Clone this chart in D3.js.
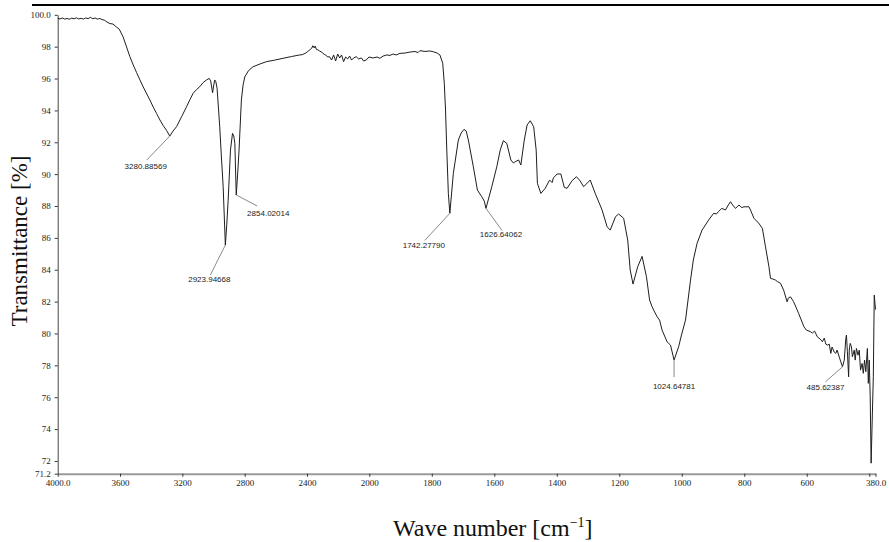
<!DOCTYPE html>
<html>
<head>
<meta charset="utf-8">
<script src="https://cdn.jsdelivr.net/npm/d3@7"></script>
<style>
  html, body { margin: 0; padding: 0; background: #fff; }
  svg { display: block; }
</style>
</head>
<body>
<div id="chart"></div>
<script>
// FTIR spectrum: wavenumber (cm-1) and transmittance (%)
const wavenumber = [
  4000, 3985, 3970, 3955, 3940, 3925, 3910, 3895, 3880, 3865, 3850, 3835, 3820, 3805, 3790, 3775, 3760, 3745, 3730, 3715,
  3700, 3684, 3665, 3645, 3625, 3605, 3580, 3558, 3537, 3515, 3494, 3472, 3451, 3428, 3408, 3387, 3365, 3344, 3323, 3301,
  3280.88569, 3260, 3237, 3205, 3173, 3150, 3131, 3110, 3088, 3066, 3045, 3028, 3018, 3006, 2998, 2992, 2985, 2977, 2960, 2950,
  2938, 2923.94668, 2915, 2906, 2891, 2878, 2870, 2863, 2854.02014, 2845, 2836, 2821, 2810, 2799, 2775, 2746, 2700, 2660, 2610, 2554,
  2500, 2447, 2430, 2408, 2395, 2383, 2370, 2362, 2354, 2347, 2340, 2330, 2319, 2310, 2299, 2290, 2280, 2267, 2255, 2242,
  2229, 2216, 2203, 2190, 2178, 2165, 2152, 2139, 2126, 2114, 2101, 2084, 2069, 2050, 2037, 2020, 2002, 1988, 1975, 1966,
  1956, 1944, 1934, 1924, 1914, 1902, 1886, 1870, 1854, 1844, 1838, 1822, 1806, 1795, 1783, 1774, 1765, 1760, 1756, 1752,
  1747, 1742.27790, 1731, 1715, 1706, 1697, 1690, 1683, 1667, 1654, 1640, 1632, 1626.64062, 1608, 1592, 1581, 1571, 1560, 1547, 1539,
  1533, 1522, 1515, 1504, 1495, 1485, 1474, 1466, 1462, 1451, 1437, 1423, 1415, 1411, 1399, 1387, 1376, 1367, 1351, 1337,
  1325, 1314, 1293, 1277, 1255, 1239, 1229, 1212, 1202, 1186, 1173, 1165, 1156, 1141, 1127, 1113, 1103, 1095, 1090, 1079,
  1071, 1063, 1047, 1036, 1024.64781, 1010, 1001, 988, 972, 963, 951, 935, 914, 898, 889, 883, 872, 860, 853, 844,
  837, 828, 817, 808, 801, 785, 780, 769, 754, 742, 732, 721, 716, 709, 700, 694, 684, 674, 663, 659,
  652, 642, 626, 609, 601, 588, 582, 575, 566, 557, 550, 544, 539, 534, 528, 523, 519, 512, 507, 503,
  496, 491, 485.62387, 480, 475, 473, 470, 466, 464, 461, 457, 454, 448, 445, 441, 436, 432, 428, 423, 419,
  415, 411, 406, 403, 400, 397, 394, 390, 387, 384, 380
];
const transmittance = [
  99.78, 99.74, 99.80, 99.73, 99.77, 99.72, 99.79, 99.75, 99.81, 99.74, 99.78, 99.73, 99.80, 99.76, 99.84, 99.75, 99.80, 99.73, 99.77, 99.70,
  99.66, 99.55, 99.45, 99.42, 99.25, 99.10, 98.61, 97.98, 97.38, 96.85, 96.38, 95.91, 95.47, 95.03, 94.65, 94.21, 93.80, 93.40, 93.05, 92.74,
  92.39, 92.70, 92.98, 93.60, 94.23, 94.70, 95.07, 95.30, 95.49, 95.75, 95.91, 96.01, 95.85, 95.11, 95.60, 95.91, 95.80, 95.39, 92.98, 91.20,
  89.21, 85.55, 86.80, 88.37, 91.51, 92.56, 92.40, 91.93, 88.69, 90.00, 91.51, 94.65, 95.60, 96.11, 96.50, 96.74, 96.92, 97.06, 97.15, 97.27,
  97.38, 97.48, 97.50, 97.60, 97.70, 97.79, 97.90, 98.06, 97.92, 98.04, 97.83, 97.80, 97.73, 97.68, 97.60, 97.52, 97.48, 97.35, 97.37, 97.16,
  97.48, 97.10, 97.54, 97.29, 97.48, 97.06, 97.35, 97.23, 97.41, 97.16, 97.29, 97.37, 97.23, 97.29, 97.10, 97.16, 97.35, 97.29, 97.35, 97.27,
  97.41, 97.48, 97.45, 97.54, 97.48, 97.58, 97.60, 97.66, 97.70, 97.63, 97.75, 97.70, 97.73, 97.68, 97.60, 97.48, 96.96, 95.70, 94.02, 91.51,
  88.79, 87.54, 90.05, 92.14, 92.58, 92.81, 92.71, 92.14, 90.46, 89.00, 88.58, 88.31, 87.85, 89.21, 90.46, 91.51, 92.10, 91.93, 90.89, 90.70,
  90.78, 90.89, 90.57, 92.14, 93.08, 93.35, 92.98, 91.51, 89.42, 88.79, 89.11, 89.63, 89.47, 89.76, 90.01, 90.01, 89.17, 89.11, 89.59, 89.84,
  89.57, 89.21, 89.63, 88.79, 87.75, 86.70, 86.49, 87.33, 87.50, 87.23, 85.86, 83.98, 83.10, 84.19, 84.84, 83.56, 82.10, 81.68, 81.47, 81.05,
  80.84, 80.21, 79.48, 79.27, 78.33, 79.17, 79.90, 80.84, 83.35, 84.61, 85.66, 86.49, 87.12, 87.54, 87.50, 87.64, 87.85, 87.75, 88.00, 88.27,
  88.06, 87.85, 88.06, 87.90, 87.95, 87.95, 87.75, 87.23, 86.93, 86.60, 85.44, 84.19, 83.46, 83.42, 83.35, 83.26, 83.15, 82.72, 81.99, 82.22,
  82.30, 81.99, 81.26, 80.42, 80.21, 80.11, 80.03, 80.15, 79.79, 79.65, 79.48, 79.71, 79.33, 79.27, 79.33, 78.75, 79.15, 78.83, 78.75, 78.96,
  78.52, 78.22, 77.91, 78.33, 79.69, 79.90, 78.85, 77.28, 78.96, 79.38, 79.17, 78.54, 78.96, 78.33, 79.06, 78.64, 78.96, 77.70, 78.12, 77.50,
  78.33, 77.60, 79.06, 76.87, 78.33, 76.03, 71.86, 75.00, 77.28, 82.41, 81.50
];

// Labelled absorption bands
const peakWavenumber = [3280.88569, 2923.94668, 2854.02014, 1742.27790, 1626.64062, 1024.64781, 485.62387];
const peakLabel = ["3280.88569", "2923.94668", "2854.02014", "1742.27790", "1626.64062", "1024.64781", "485.62387"];

// Axis ticks
const xTickValues = [4000, 3600, 3200, 2800, 2400, 2000, 1800, 1600, 1400, 1200, 1000, 800, 600, 400, 380];
const xTickLabels = ["4000.0", "3600", "3200", "2800", "2400", "2000", "1800", "1600", "1400", "1200", "1000", "800", "600", "", "380.0"];
const yTickValues = [71.2, 72, 74, 76, 78, 80, 82, 84, 86, 88, 90, 92, 94, 96, 98, 100];
const yTickLabels = ["71.2", "72", "74", "76", "78", "80", "82", "84", "86", "88", "90", "92", "94", "96", "98", "100.0"];

const W = 889, H = 542;
const plot = { left: 57.7, right: 875.5, top: 14.8, bottom: 473.7 };

const svg = d3.select("#chart").append("svg")
  .attr("width", W).attr("height", H)
  .style("background", "#fff");

// Wavenumber axis is expanded below 2000 cm-1
const x = d3.scaleLinear()
  .domain([4000, 2000, 380])
  .range([plot.left, 369.3, plot.right]);
const y = d3.scaleLinear()
  .domain([71.2, 100])
  .range([plot.bottom, plot.top]);

const serif = "'Liberation Serif', 'Times New Roman', serif";
const sans = "'Liberation Sans', Arial, sans-serif";

// Frame line across the top
svg.append("line")
  .attr("x1", 32).attr("x2", W)
  .attr("y1", 5).attr("y2", 5)
  .attr("stroke", "#000").attr("stroke-width", 2);

// X axis
const xAxis = svg.append("g")
  .attr("transform", `translate(0,${plot.bottom})`)
  .call(d3.axisBottom(x)
    .tickValues(xTickValues)
    .tickFormat((d, i) => xTickLabels[i])
    .tickSizeInner(3).tickSizeOuter(0).tickPadding(3));
xAxis.attr("font-family", serif);
xAxis.select(".domain").attr("stroke", "#9a9a9a").attr("stroke-width", 2);
xAxis.selectAll(".tick line").attr("stroke", "#333");
xAxis.selectAll(".tick text")
  .attr("font-family", serif).attr("font-size", 9).attr("fill", "#222");

// Y axis
const yAxis = svg.append("g")
  .attr("transform", `translate(${plot.left},0)`)
  .call(d3.axisLeft(y)
    .tickValues(yTickValues)
    .tickFormat((d, i) => yTickLabels[i])
    .tickSizeInner(3).tickSizeOuter(0).tickPadding(4));
yAxis.attr("font-family", serif);
yAxis.select(".domain").attr("stroke", "#444").attr("stroke-width", 1);
yAxis.selectAll(".tick line").attr("stroke", "#333");
yAxis.selectAll(".tick text")
  .attr("font-family", serif).attr("font-size", 9).attr("fill", "#222");

// Spectrum trace
const points = wavenumber.map((w, i) => [w, transmittance[i]]);
const line = d3.line().x(d => x(d[0])).y(d => y(d[1]));
svg.append("path")
  .datum(points)
  .attr("d", line)
  .attr("fill", "none")
  .attr("stroke", "#1e1e1e")
  .attr("stroke-width", 1)
  .attr("stroke-linejoin", "round");

// Band annotations: leader end offset and label offset from the band minimum
const annotLayout = [
  { lx: -23, ly: 24, tx: -24, ty: 33 },
  { lx: -15, ly: 30, tx: -16, ty: 37 },
  { lx: 21, ly: 11, tx: 32, ty: 21 },
  { lx: -25, ly: 27, tx: -26, ty: 35 },
  { lx: 16, ly: 22, tx: 15, ty: 29 },
  { lx: 0, ly: 17, tx: 0, ty: 29 },
  { lx: -17, ly: 15, tx: -17, ty: 23 }
];
const tAt = w => transmittance[wavenumber.indexOf(w)];
const annot = svg.append("g");
peakWavenumber.forEach((w, i) => {
  const px = x(w), py = y(tAt(w));
  const L = annotLayout[i];
  annot.append("line")
    .attr("x1", px).attr("y1", py)
    .attr("x2", px + L.lx).attr("y2", py + L.ly)
    .attr("stroke", "#8a8a8a").attr("stroke-width", 1);
  annot.append("text")
    .attr("x", px + L.tx).attr("y", py + L.ty)
    .attr("text-anchor", "middle")
    .attr("font-family", sans).attr("font-size", 8)
    .attr("fill", "#222")
    .text(peakLabel[i]);
});

// Axis titles
svg.append("text")
  .attr("transform", "translate(27,241) rotate(-90)")
  .attr("text-anchor", "middle")
  .attr("font-family", serif).attr("font-size", 23)
  .attr("fill", "#111")
  .text("Transmittance [%]");

const xt = svg.append("text")
  .attr("x", 393).attr("y", 536)
  .attr("font-family", serif).attr("font-size", 24)
  .attr("fill", "#111");
xt.append("tspan").text("Wave number [cm");
xt.append("tspan").attr("font-size", 14).attr("dy", -9).text("\u22121");
xt.append("tspan").attr("dy", 9).text("]");
</script>
</body>
</html>
